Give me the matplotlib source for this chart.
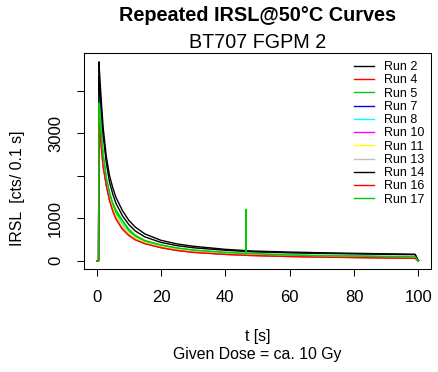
import matplotlib
matplotlib.use("Agg")
import matplotlib.pyplot as plt

plt.rcParams['font.family'] = ['Liberation Sans', 'DejaVu Sans']

time_s = [0.1, 0.6, 0.7, 1.0, 1.5, 2.0, 3.0, 4.0, 5.0, 6.0, 8.0, 10.0, 12.0, 15.0,
          20.0, 25.0, 30.0, 40.0, 46.3, 46.4, 46.5, 50.0, 60.0, 70.0, 80.0, 90.0, 99.0, 100.0]

run_names = ["Run 2", "Run 4", "Run 5", "Run 7", "Run 8", "Run 10",
             "Run 11", "Run 13", "Run 14", "Run 16", "Run 17"]
run_colors = ["black", "#FF0000", "#00CD00", "#0000FF", "#00FFFF", "#FF00FF",
              "#FFFF00", "#BEBEBE", "black", "#FF0000", "#00CD00"]

run_2 = [0, 0, 4680, 4300, 3700, 3150, 2450, 2000, 1720, 1490, 1180, 950, 790, 630,
         480, 395, 340, 268, 238, 235, 233, 225, 203, 187, 174, 163, 152, 0]
run_4 = [0, 0, 3500, 3150, 2650, 2250, 1780, 1430, 1180, 990, 750, 600, 500, 405,
         310, 245, 200, 150, 130, 128, 127, 120, 100, 86, 76, 67, 58, 0]
run_5 = [0, 0, 3740, 3400, 2900, 2500, 1950, 1600, 1350, 1200, 950, 740, 600, 475,
         370, 300, 250, 195, 170, 168, 167, 160, 135, 120, 110, 100, 94, 0]
run_7 = [0, 0, 3800, 3420, 2870, 2450, 1900, 1540, 1290, 1090, 840, 670, 550, 440,
         345, 280, 232, 180, 158, 157, 156, 148, 125, 110, 100, 92, 85, 0]
run_8 = [0, 0, 3920, 3500, 2930, 2500, 1930, 1570, 1310, 1110, 860, 690, 565, 450,
         352, 286, 238, 185, 162, 161, 160, 152, 128, 113, 103, 94, 87, 0]
run_10 = [0, 0, 3600, 3220, 2700, 2300, 1800, 1450, 1200, 1010, 770, 615, 510, 412,
          318, 252, 207, 157, 137, 136, 135, 127, 106, 92, 82, 73, 65, 0]
run_11 = [0, 0, 3650, 3300, 2780, 2380, 1860, 1510, 1260, 1060, 820, 655, 540, 432,
          338, 272, 226, 175, 154, 153, 152, 144, 121, 106, 96, 88, 81, 0]
run_13 = [0, 0, 3550, 3200, 2680, 2280, 1790, 1440, 1190, 1000, 760, 608, 505, 408,
          314, 249, 204, 154, 135, 134, 133, 125, 104, 90, 80, 71, 63, 0]
run_14 = [0, 0, 4350, 4000, 3450, 2950, 2300, 1850, 1570, 1350, 1060, 850, 700, 560,
          430, 355, 305, 245, 218, 216, 215, 205, 185, 170, 160, 150, 142, 0]
run_16 = [0, 0, 3450, 3100, 2600, 2220, 1760, 1420, 1170, 980, 740, 590, 490, 400,
          305, 240, 195, 148, 128, 127, 126, 118, 98, 84, 74, 65, 57, 0]
run_17 = [0, 0, 3700, 3380, 2880, 2480, 1940, 1590, 1340, 1140, 940, 715, 585, 465,
          365, 298, 248, 193, 170, 1210, 172, 158, 133, 118, 108, 99, 93, 0]

runs = [run_2, run_4, run_5, run_7, run_8, run_10, run_11, run_13, run_14, run_16, run_17]

x_ticks = [0, 20, 40, 60, 80, 100]
y_ticks = [0, 1000, 2000, 3000, 4000]
y_tick_labels = ["0", "1000", "", "3000", ""]

fig = plt.figure(figsize=(4.38, 3.72), dpi=100)
ax = fig.add_axes([0.1913, 0.2769, 0.7932, 0.5806])

for name, col, vals in zip(run_names, run_colors, runs):
    ax.plot(time_s, vals, color=col, lw=1.0, label=name)

ax.set_xlim(-4, 104)
ax.set_ylim(-195, 4887)
ax.set_xticks(x_ticks)
ax.set_yticks(y_ticks)
ax.set_yticklabels(y_tick_labels, rotation=90, va="center")
ax.tick_params(axis="both", length=5, width=0.75, labelsize=12, pad=10)
for s in ax.spines.values():
    s.set_linewidth(0.75)

# legend without frame, top right like the R legend(bty="n")
ax.legend(loc="upper right", frameon=False, fontsize=9, labelspacing=0.1,
          handlelength=1.6, handletextpad=0.8, borderaxespad=0.0,
          bbox_to_anchor=(0.995, 0.985))

fig.text(0.588, 1 - 15.7 / 372, "Repeated IRSL@50°C Curves", ha="center", va="center",
         fontsize=14.3, fontweight="bold")
fig.text(0.588, 1 - 43 / 372, "BT707 FGPM 2", ha="center", va="center", fontsize=14.2)
fig.text(0.588, 1 - 336 / 372, "t [s]", ha="center", va="center", fontsize=11.4)
fig.text(0.588, 1 - 355 / 372, "Given Dose = ca. 10 Gy", ha="center", va="center",
         fontsize=11.4)
fig.text(18 / 438, 1 - 188 / 372, "IRSL  [cts/ 0.1 s]", ha="center", va="center",
         rotation=90, fontsize=11.4)

fig.savefig("out.png", dpi=100)
